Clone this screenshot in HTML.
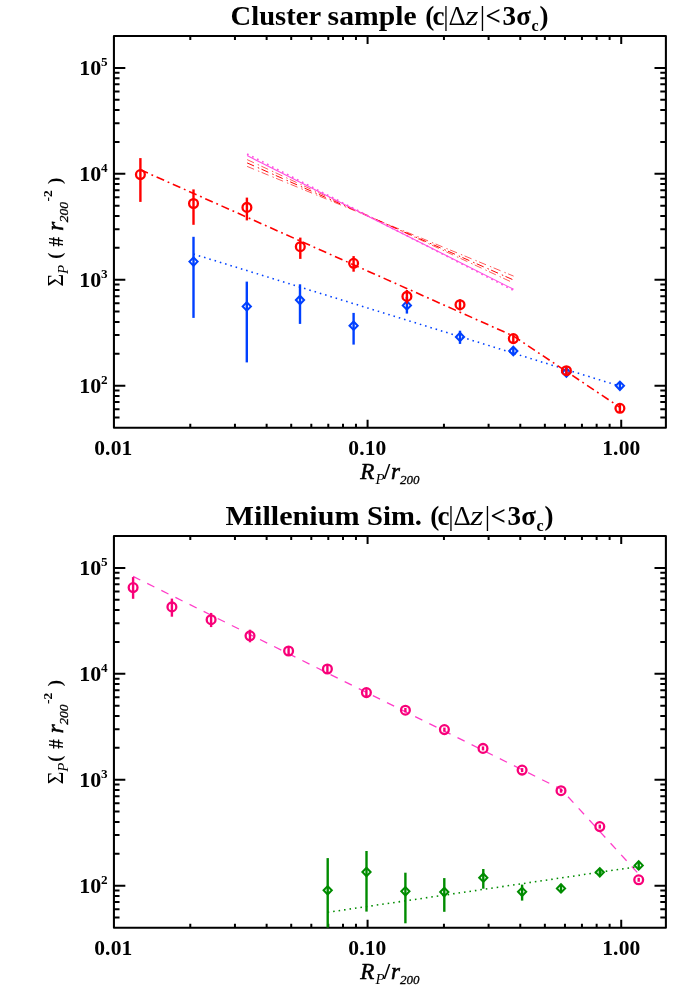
<!DOCTYPE html>
<html><head><meta charset="utf-8"><title>plot</title>
<style>
html,body{margin:0;padding:0;background:#fff;}
svg{display:block;font-family:"Liberation Serif",serif;will-change:transform;}
text{fill:#000;}
.tk{font-size:21.5px;font-weight:bold;letter-spacing:0.15px;}
.ax{font-size:23px;}
.tt{font-size:27px;font-weight:bold;}
.b{font-weight:bold;font-style:normal;}
.bi{font-weight:normal;font-style:italic;stroke:#000;stroke-width:0.55px;}
.i{font-style:italic;font-weight:normal;}
.r{font-weight:normal;font-style:normal;}
.sub{font-size:13px;font-style:italic;font-weight:normal;}
.subb{font-size:13px;font-style:italic;font-weight:normal;stroke:#000;stroke-width:0.3px;}
</style></head><body>
<svg width="700" height="1000" viewBox="0 0 700 1000">
<rect width="700" height="1000" fill="#fff"/>
<rect x="113.93" y="36.00" width="551.97" height="391.80" fill="none" stroke="#000" stroke-width="2.05" stroke-linejoin="round"/>
<path d="M190.29 427.80v-4.1M190.29 36.00v4.1M234.95 427.80v-4.1M234.95 36.00v4.1M266.64 427.80v-4.1M266.64 36.00v4.1M291.22 427.80v-4.1M291.22 36.00v4.1M311.31 427.80v-4.1M311.31 36.00v4.1M328.29 427.80v-4.1M328.29 36.00v4.1M343.00 427.80v-4.1M343.00 36.00v4.1M355.97 427.80v-4.1M355.97 36.00v4.1M367.58 427.80v-8.1M367.58 36.00v8.1M443.94 427.80v-4.1M443.94 36.00v4.1M488.60 427.80v-4.1M488.60 36.00v4.1M520.29 427.80v-4.1M520.29 36.00v4.1M544.87 427.80v-4.1M544.87 36.00v4.1M564.96 427.80v-4.1M564.96 36.00v4.1M581.94 427.80v-4.1M581.94 36.00v4.1M596.65 427.80v-4.1M596.65 36.00v4.1M609.62 427.80v-4.1M609.62 36.00v4.1M621.23 427.80v-8.1M621.23 36.00v8.1M113.93 417.54h5.6M665.9 417.54h-5.6M113.93 409.15h5.6M665.9 409.15h-5.6M113.93 402.06h5.6M665.9 402.06h-5.6M113.93 395.91h5.6M665.9 395.91h-5.6M113.93 390.50h5.6M665.9 390.50h-5.6M113.93 385.65h11.4M665.9 385.65h-11.4M113.93 353.76h5.6M665.9 353.76h-5.6M113.93 335.11h5.6M665.9 335.11h-5.6M113.93 321.88h5.6M665.9 321.88h-5.6M113.93 311.61h5.6M665.9 311.61h-5.6M113.93 303.23h5.6M665.9 303.23h-5.6M113.93 296.14h5.6M665.9 296.14h-5.6M113.93 289.99h5.6M665.9 289.99h-5.6M113.93 284.57h5.6M665.9 284.57h-5.6M113.93 279.73h11.4M665.9 279.73h-11.4M113.93 247.84h5.6M665.9 247.84h-5.6M113.93 229.19h5.6M665.9 229.19h-5.6M113.93 215.96h5.6M665.9 215.96h-5.6M113.93 205.69h5.6M665.9 205.69h-5.6M113.93 197.31h5.6M665.9 197.31h-5.6M113.93 190.21h5.6M665.9 190.21h-5.6M113.93 184.07h5.6M665.9 184.07h-5.6M113.93 178.65h5.6M665.9 178.65h-5.6M113.93 173.81h11.4M665.9 173.81h-11.4M113.93 141.92h5.6M665.9 141.92h-5.6M113.93 123.27h5.6M665.9 123.27h-5.6M113.93 110.04h5.6M665.9 110.04h-5.6M113.93 99.77h5.6M665.9 99.77h-5.6M113.93 91.38h5.6M665.9 91.38h-5.6M113.93 84.29h5.6M665.9 84.29h-5.6M113.93 78.15h5.6M665.9 78.15h-5.6M113.93 72.73h5.6M665.9 72.73h-5.6M113.93 67.89h11.4M665.9 67.89h-11.4" stroke="#000" stroke-width="2" fill="none"/>
<text x="79.2" y="392.75" class="tk" style="font-size:22px">10<tspan x="100.9" dy="-9.1" font-size="13.2">2</tspan></text>
<text x="79.2" y="286.83" class="tk" style="font-size:22px">10<tspan x="100.9" dy="-9.1" font-size="13.2">3</tspan></text>
<text x="79.2" y="180.91" class="tk" style="font-size:22px">10<tspan x="100.9" dy="-9.1" font-size="13.2">4</tspan></text>
<text x="79.2" y="74.99" class="tk" style="font-size:22px">10<tspan x="100.9" dy="-9.1" font-size="13.2">5</tspan></text>
<text x="113.33" y="455.00" class="tk" text-anchor="middle">0.01</text>
<text x="367.38" y="455.00" class="tk" text-anchor="middle">0.10</text>
<text x="621.33" y="455.00" class="tk" text-anchor="middle">1.00</text>
<text y="478.60" class="ax"><tspan class="bi" x="360.2">R</tspan><tspan class="sub" style="font-size:15px" x="375.6" dy="5.5">P</tspan><tspan x="383.7" dy="-5.5" class="b">/</tspan><tspan x="391" class="bi">r</tspan><tspan x="400.1" class="subb" dy="5">200</tspan></text>
<text transform="translate(62.9 285.40) rotate(-90)" class="ax"><tspan class="r" x="-1.1" dy="-0.2" textLength="12.6" lengthAdjust="spacingAndGlyphs">Σ</tspan><tspan class="sub" style="font-size:15px" x="11.3" dy="4.8">P</tspan><tspan x="26.60" dy="-6.2" font-size="18.5" class="b">(</tspan><tspan x="38.90" dy="1.6" class="b" font-size="21.5" textLength="9.6" lengthAdjust="spacingAndGlyphs">#</tspan><tspan x="54.60" class="bi">r</tspan><tspan x="63.10" class="subb" style="font-size:13.5px" dy="5">200</tspan><tspan x="83.80" class="b" font-size="13.5" dy="-16.4">-2</tspan><tspan x="101.40" class="b" font-size="19" dy="9.8">)</tspan></text>
<text y="25.00" class="tt"><tspan x="230.6" textLength="90.5" lengthAdjust="spacingAndGlyphs">Cluster</tspan><tspan x="327.6" textLength="89" lengthAdjust="spacingAndGlyphs">sample</tspan></text><text y="25.00" class="tt"><tspan x="425.2">(</tspan><tspan x="432.4">c</tspan><tspan class="r" x="443.3">|</tspan><tspan class="r" x="448.6">Δ</tspan><tspan class="i" x="465.2" textLength="13.2" lengthAdjust="spacingAndGlyphs">z</tspan><tspan class="r" x="479.7">|</tspan><tspan x="485.6">&lt;</tspan><tspan x="502.5">3</tspan><tspan x="516.2">σ</tspan><tspan x="531.6" font-size="16" dy="6">c</tspan><tspan x="539.5" dy="-6">)</tspan></text>
<path d="M247.1 166.4L513.6 276.1" stroke="#ff0000" stroke-width="0.65" stroke-dasharray="7.5 4.2 1.5 2.48" fill="none"/>
<path d="M247.1 162.9L513.6 280" stroke="#ff0000" stroke-width="1.0" stroke-dasharray="7.5 4.2 1.5 2.48" fill="none"/>
<path d="M247.1 159.6L513.6 283" stroke="#ff0000" stroke-width="0.65" stroke-dasharray="7.5 4.2 1.5 2.48" fill="none"/>
<path d="M247.1 155.6L513.6 289.3" stroke="#ff50e0" stroke-width="1.1" fill="none"/>
<path d="M247.1 153.9L513.6 290.4" stroke="#ff50e0" stroke-width="1.7" stroke-dasharray="1.7 3.9" fill="none"/>
<path d="M193.5 254.05L620 386.2" stroke="#0040ff" stroke-width="1.55" stroke-dasharray="1.55 3.96" fill="none"/>
<path d="M193.5 236.8V317.9" stroke="#0040ff" stroke-width="2.4"/>
<path d="M189.4 261.6L193.5 257.40000000000003L197.6 261.6L193.5 265.8Z" fill="none" stroke="#0040ff" stroke-width="2"/>
<path d="M246.8 281.6V362.4" stroke="#0040ff" stroke-width="2.4"/>
<path d="M242.70000000000002 306.4L246.8 302.2L250.9 306.4L246.8 310.59999999999997Z" fill="none" stroke="#0040ff" stroke-width="2"/>
<path d="M300 284.3V323.9" stroke="#0040ff" stroke-width="2.4"/>
<path d="M295.9 300L300 295.8L304.1 300L300 304.2Z" fill="none" stroke="#0040ff" stroke-width="2"/>
<path d="M353.6 312.9V344.6" stroke="#0040ff" stroke-width="2.4"/>
<path d="M349.5 325.7L353.6 321.5L357.70000000000005 325.7L353.6 329.9Z" fill="none" stroke="#0040ff" stroke-width="2"/>
<path d="M406.9 297V313.6" stroke="#0040ff" stroke-width="2.4"/>
<path d="M402.79999999999995 305.4L406.9 301.2L411.0 305.4L406.9 309.59999999999997Z" fill="none" stroke="#0040ff" stroke-width="2"/>
<path d="M460 330.7V343.9" stroke="#0040ff" stroke-width="2.4"/>
<path d="M455.9 336.9L460 332.7L464.1 336.9L460 341.09999999999997Z" fill="none" stroke="#0040ff" stroke-width="2"/>
<path d="M513.3 347V355" stroke="#0040ff" stroke-width="2.4"/>
<path d="M509.19999999999993 351L513.3 346.8L517.4 351L513.3 355.2Z" fill="none" stroke="#0040ff" stroke-width="2"/>
<path d="M566.4 369V376" stroke="#0040ff" stroke-width="2.4"/>
<path d="M562.3 372.5L566.4 368.3L570.5 372.5L566.4 376.7Z" fill="none" stroke="#0040ff" stroke-width="2"/>
<path d="M619.9 382.3V389.3" stroke="#0040ff" stroke-width="2.4"/>
<path d="M615.8 385.8L619.9 381.6L624.0 385.8L619.9 390.0Z" fill="none" stroke="#0040ff" stroke-width="2"/>
<path d="M140.4 169.75L513.3 335.95L619.9 407.3" stroke="#ff0000" stroke-width="1.6" stroke-dasharray="8.2 3.9 1.8 3.85" fill="none"/>
<path d="M140.4 158.1V201.9" stroke="#ff0000" stroke-width="2.4"/>
<circle cx="140.4" cy="174.6" r="4.4" fill="none" stroke="#ff0000" stroke-width="2.3"/>
<path d="M193.5 189.4V224.8" stroke="#ff0000" stroke-width="2.4"/>
<circle cx="193.5" cy="203.5" r="4.4" fill="none" stroke="#ff0000" stroke-width="2.3"/>
<path d="M246.9 197.6V220.4" stroke="#ff0000" stroke-width="2.4"/>
<circle cx="246.9" cy="207.4" r="4.4" fill="none" stroke="#ff0000" stroke-width="2.3"/>
<path d="M300.3 237.6V258.9" stroke="#ff0000" stroke-width="2.4"/>
<circle cx="300.3" cy="246.7" r="4.4" fill="none" stroke="#ff0000" stroke-width="2.3"/>
<path d="M353.6 256.1V271.7" stroke="#ff0000" stroke-width="2.4"/>
<circle cx="353.6" cy="263.3" r="4.4" fill="none" stroke="#ff0000" stroke-width="2.3"/>
<path d="M406.9 290V303.6" stroke="#ff0000" stroke-width="2.4"/>
<circle cx="406.9" cy="296.4" r="4.4" fill="none" stroke="#ff0000" stroke-width="2.3"/>
<path d="M460 299.3V310.4" stroke="#ff0000" stroke-width="2.4"/>
<circle cx="460" cy="304.7" r="4.4" fill="none" stroke="#ff0000" stroke-width="2.3"/>
<path d="M513.3 334V343" stroke="#ff0000" stroke-width="2.4"/>
<circle cx="513.3" cy="338.6" r="4.4" fill="none" stroke="#ff0000" stroke-width="2.3"/>
<path d="M566.4 366.5V375" stroke="#ff0000" stroke-width="2.4"/>
<circle cx="566.4" cy="370.7" r="4.4" fill="none" stroke="#ff0000" stroke-width="2.3"/>
<path d="M619.9 404V412.5" stroke="#ff0000" stroke-width="2.4"/>
<circle cx="619.9" cy="408.3" r="4.4" fill="none" stroke="#ff0000" stroke-width="2.3"/>
<rect x="113.93" y="536.00" width="551.97" height="391.80" fill="none" stroke="#000" stroke-width="2.05" stroke-linejoin="round"/>
<path d="M190.29 927.80v-4.1M190.29 536.00v4.1M234.95 927.80v-4.1M234.95 536.00v4.1M266.64 927.80v-4.1M266.64 536.00v4.1M291.22 927.80v-4.1M291.22 536.00v4.1M311.31 927.80v-4.1M311.31 536.00v4.1M328.29 927.80v-4.1M328.29 536.00v4.1M343.00 927.80v-4.1M343.00 536.00v4.1M355.97 927.80v-4.1M355.97 536.00v4.1M367.58 927.80v-8.1M367.58 536.00v8.1M443.94 927.80v-4.1M443.94 536.00v4.1M488.60 927.80v-4.1M488.60 536.00v4.1M520.29 927.80v-4.1M520.29 536.00v4.1M544.87 927.80v-4.1M544.87 536.00v4.1M564.96 927.80v-4.1M564.96 536.00v4.1M581.94 927.80v-4.1M581.94 536.00v4.1M596.65 927.80v-4.1M596.65 536.00v4.1M609.62 927.80v-4.1M609.62 536.00v4.1M621.23 927.80v-8.1M621.23 536.00v8.1M113.93 917.54h5.6M665.9 917.54h-5.6M113.93 909.15h5.6M665.9 909.15h-5.6M113.93 902.06h5.6M665.9 902.06h-5.6M113.93 895.91h5.6M665.9 895.91h-5.6M113.93 890.50h5.6M665.9 890.50h-5.6M113.93 885.65h11.4M665.9 885.65h-11.4M113.93 853.76h5.6M665.9 853.76h-5.6M113.93 835.11h5.6M665.9 835.11h-5.6M113.93 821.88h5.6M665.9 821.88h-5.6M113.93 811.61h5.6M665.9 811.61h-5.6M113.93 803.23h5.6M665.9 803.23h-5.6M113.93 796.14h5.6M665.9 796.14h-5.6M113.93 789.99h5.6M665.9 789.99h-5.6M113.93 784.57h5.6M665.9 784.57h-5.6M113.93 779.73h11.4M665.9 779.73h-11.4M113.93 747.84h5.6M665.9 747.84h-5.6M113.93 729.19h5.6M665.9 729.19h-5.6M113.93 715.96h5.6M665.9 715.96h-5.6M113.93 705.69h5.6M665.9 705.69h-5.6M113.93 697.31h5.6M665.9 697.31h-5.6M113.93 690.21h5.6M665.9 690.21h-5.6M113.93 684.07h5.6M665.9 684.07h-5.6M113.93 678.65h5.6M665.9 678.65h-5.6M113.93 673.81h11.4M665.9 673.81h-11.4M113.93 641.92h5.6M665.9 641.92h-5.6M113.93 623.27h5.6M665.9 623.27h-5.6M113.93 610.04h5.6M665.9 610.04h-5.6M113.93 599.77h5.6M665.9 599.77h-5.6M113.93 591.38h5.6M665.9 591.38h-5.6M113.93 584.29h5.6M665.9 584.29h-5.6M113.93 578.15h5.6M665.9 578.15h-5.6M113.93 572.73h5.6M665.9 572.73h-5.6M113.93 567.89h11.4M665.9 567.89h-11.4" stroke="#000" stroke-width="2" fill="none"/>
<text x="79.2" y="892.75" class="tk" style="font-size:22px">10<tspan x="100.9" dy="-9.1" font-size="13.2">2</tspan></text>
<text x="79.2" y="786.83" class="tk" style="font-size:22px">10<tspan x="100.9" dy="-9.1" font-size="13.2">3</tspan></text>
<text x="79.2" y="680.91" class="tk" style="font-size:22px">10<tspan x="100.9" dy="-9.1" font-size="13.2">4</tspan></text>
<text x="79.2" y="574.99" class="tk" style="font-size:22px">10<tspan x="100.9" dy="-9.1" font-size="13.2">5</tspan></text>
<text x="113.33" y="955.00" class="tk" text-anchor="middle">0.01</text>
<text x="367.38" y="955.00" class="tk" text-anchor="middle">0.10</text>
<text x="621.33" y="955.00" class="tk" text-anchor="middle">1.00</text>
<text y="978.60" class="ax"><tspan class="bi" x="360.2">R</tspan><tspan class="sub" style="font-size:15px" x="375.6" dy="5.5">P</tspan><tspan x="383.7" dy="-5.5" class="b">/</tspan><tspan x="391" class="bi">r</tspan><tspan x="400.1" class="subb" dy="5">200</tspan></text>
<text transform="translate(62.9 783.15) rotate(-90)" class="ax"><tspan class="r" x="-1.1" dy="-0.2" textLength="12.6" lengthAdjust="spacingAndGlyphs">Σ</tspan><tspan class="sub" style="font-size:15px" x="11.3" dy="4.8">P</tspan><tspan x="21.50" dy="-6.2" font-size="18.5" class="b">(</tspan><tspan x="34.30" dy="1.6" class="b" font-size="21.5" textLength="9.6" lengthAdjust="spacingAndGlyphs">#</tspan><tspan x="50.00" class="bi">r</tspan><tspan x="58.50" class="subb" style="font-size:13.5px" dy="5">200</tspan><tspan x="79.20" class="b" font-size="13.5" dy="-16.4">-2</tspan><tspan x="96.80" class="b" font-size="19" dy="9.8">)</tspan></text>
<text y="525.00" class="tt"><tspan x="225.6" textLength="134" lengthAdjust="spacingAndGlyphs">Millenium</tspan><tspan x="367" textLength="55" lengthAdjust="spacingAndGlyphs">Sim.</tspan></text><text y="525.00" class="tt"><tspan x="430.2">(</tspan><tspan x="437.4">c</tspan><tspan class="r" x="448.3">|</tspan><tspan class="r" x="453.6">Δ</tspan><tspan class="i" x="470.2" textLength="13.2" lengthAdjust="spacingAndGlyphs">z</tspan><tspan class="r" x="484.7">|</tspan><tspan x="490.6">&lt;</tspan><tspan x="507.5">3</tspan><tspan x="521.2">σ</tspan><tspan x="536.6" font-size="16" dy="6">c</tspan><tspan x="544.5" dy="-6">)</tspan></text>
<path d="M133.1 576.4L561 789.1L638.7 874" stroke="#ff3cc8" stroke-width="1.3" stroke-dasharray="8 7.75" fill="none"/>
<path d="M327.7 912.3L638.7 866.5" stroke="#008c00" stroke-width="1.55" stroke-dasharray="1.55 3.96" fill="none"/>
<path d="M327.7 858.1V927.6" stroke="#008c00" stroke-width="2.4"/>
<path d="M323.59999999999997 890.3L327.7 886.0999999999999L331.8 890.3L327.7 894.5Z" fill="none" stroke="#008c00" stroke-width="2"/>
<path d="M366.5 851V911.6" stroke="#008c00" stroke-width="2.4"/>
<path d="M362.4 872L366.5 867.8L370.6 872L366.5 876.2Z" fill="none" stroke="#008c00" stroke-width="2"/>
<path d="M405.4 872.7V923.3" stroke="#008c00" stroke-width="2.4"/>
<path d="M401.29999999999995 891.3L405.4 887.0999999999999L409.5 891.3L405.4 895.5Z" fill="none" stroke="#008c00" stroke-width="2"/>
<path d="M444.3 878.1V911.8" stroke="#008c00" stroke-width="2.4"/>
<path d="M440.2 892L444.3 887.8L448.40000000000003 892L444.3 896.2Z" fill="none" stroke="#008c00" stroke-width="2"/>
<path d="M483.3 869V888.7" stroke="#008c00" stroke-width="2.4"/>
<path d="M479.2 877.7L483.3 873.5L487.40000000000003 877.7L483.3 881.9000000000001Z" fill="none" stroke="#008c00" stroke-width="2"/>
<path d="M522.1 884.6V900.6" stroke="#008c00" stroke-width="2.4"/>
<path d="M518.0 891.8L522.1 887.5999999999999L526.2 891.8L522.1 896.0Z" fill="none" stroke="#008c00" stroke-width="2"/>
<path d="M561 884.5V892.5" stroke="#008c00" stroke-width="2.4"/>
<path d="M556.9 888.4L561 884.1999999999999L565.1 888.4L561 892.6Z" fill="none" stroke="#008c00" stroke-width="2"/>
<path d="M599.8 868.5V876" stroke="#008c00" stroke-width="2.4"/>
<path d="M595.6999999999999 872.3L599.8 868.0999999999999L603.9 872.3L599.8 876.5Z" fill="none" stroke="#008c00" stroke-width="2"/>
<path d="M638.7 861.5V869.5" stroke="#008c00" stroke-width="2.4"/>
<path d="M634.6 865.4L638.7 861.1999999999999L642.8000000000001 865.4L638.7 869.6Z" fill="none" stroke="#008c00" stroke-width="2"/>
<path d="M133.1 577.1V598.8" stroke="#f80078" stroke-width="2.4"/>
<circle cx="133.1" cy="587.6" r="4.4" fill="none" stroke="#f80078" stroke-width="2.3"/>
<path d="M171.9 598.6V616.7" stroke="#f80078" stroke-width="2.4"/>
<circle cx="171.9" cy="606.9" r="4.4" fill="none" stroke="#f80078" stroke-width="2.3"/>
<path d="M211.1 612.9V627.1" stroke="#f80078" stroke-width="2.4"/>
<circle cx="211.1" cy="619.7" r="4.4" fill="none" stroke="#f80078" stroke-width="2.3"/>
<path d="M250 629.7V642.3" stroke="#f80078" stroke-width="2.4"/>
<circle cx="250" cy="635.8" r="4.4" fill="none" stroke="#f80078" stroke-width="2.3"/>
<path d="M288.6 646.5V655.5" stroke="#f80078" stroke-width="2.4"/>
<circle cx="288.6" cy="651" r="4.4" fill="none" stroke="#f80078" stroke-width="2.3"/>
<path d="M327.4 665V673" stroke="#f80078" stroke-width="2.4"/>
<circle cx="327.4" cy="669" r="4.4" fill="none" stroke="#f80078" stroke-width="2.3"/>
<path d="M366.4 689.1V696.1" stroke="#f80078" stroke-width="2.4"/>
<circle cx="366.4" cy="692.6" r="4.4" fill="none" stroke="#f80078" stroke-width="2.3"/>
<path d="M405.4 708V712.4" stroke="#f80078" stroke-width="2.4"/>
<circle cx="405.4" cy="710.2" r="4.4" fill="none" stroke="#f80078" stroke-width="2.3"/>
<path d="M444.4 727.6V731.6" stroke="#f80078" stroke-width="2.4"/>
<circle cx="444.4" cy="729.6" r="4.4" fill="none" stroke="#f80078" stroke-width="2.3"/>
<path d="M483 746.4V750.4" stroke="#f80078" stroke-width="2.4"/>
<circle cx="483" cy="748.4" r="4.4" fill="none" stroke="#f80078" stroke-width="2.3"/>
<path d="M522.1 768.1V772.1" stroke="#f80078" stroke-width="2.4"/>
<circle cx="522.1" cy="770.1" r="4.4" fill="none" stroke="#f80078" stroke-width="2.3"/>
<path d="M561 788.7V792.7" stroke="#f80078" stroke-width="2.4"/>
<circle cx="561" cy="790.7" r="4.4" fill="none" stroke="#f80078" stroke-width="2.3"/>
<path d="M599.8 824.6V828.6" stroke="#f80078" stroke-width="2.4"/>
<circle cx="599.8" cy="826.6" r="4.4" fill="none" stroke="#f80078" stroke-width="2.3"/>
<path d="M638.7 877.8V881.8" stroke="#f80078" stroke-width="2.4"/>
<circle cx="638.7" cy="879.8" r="4.4" fill="none" stroke="#f80078" stroke-width="2.3"/>
</svg>
</body></html>
